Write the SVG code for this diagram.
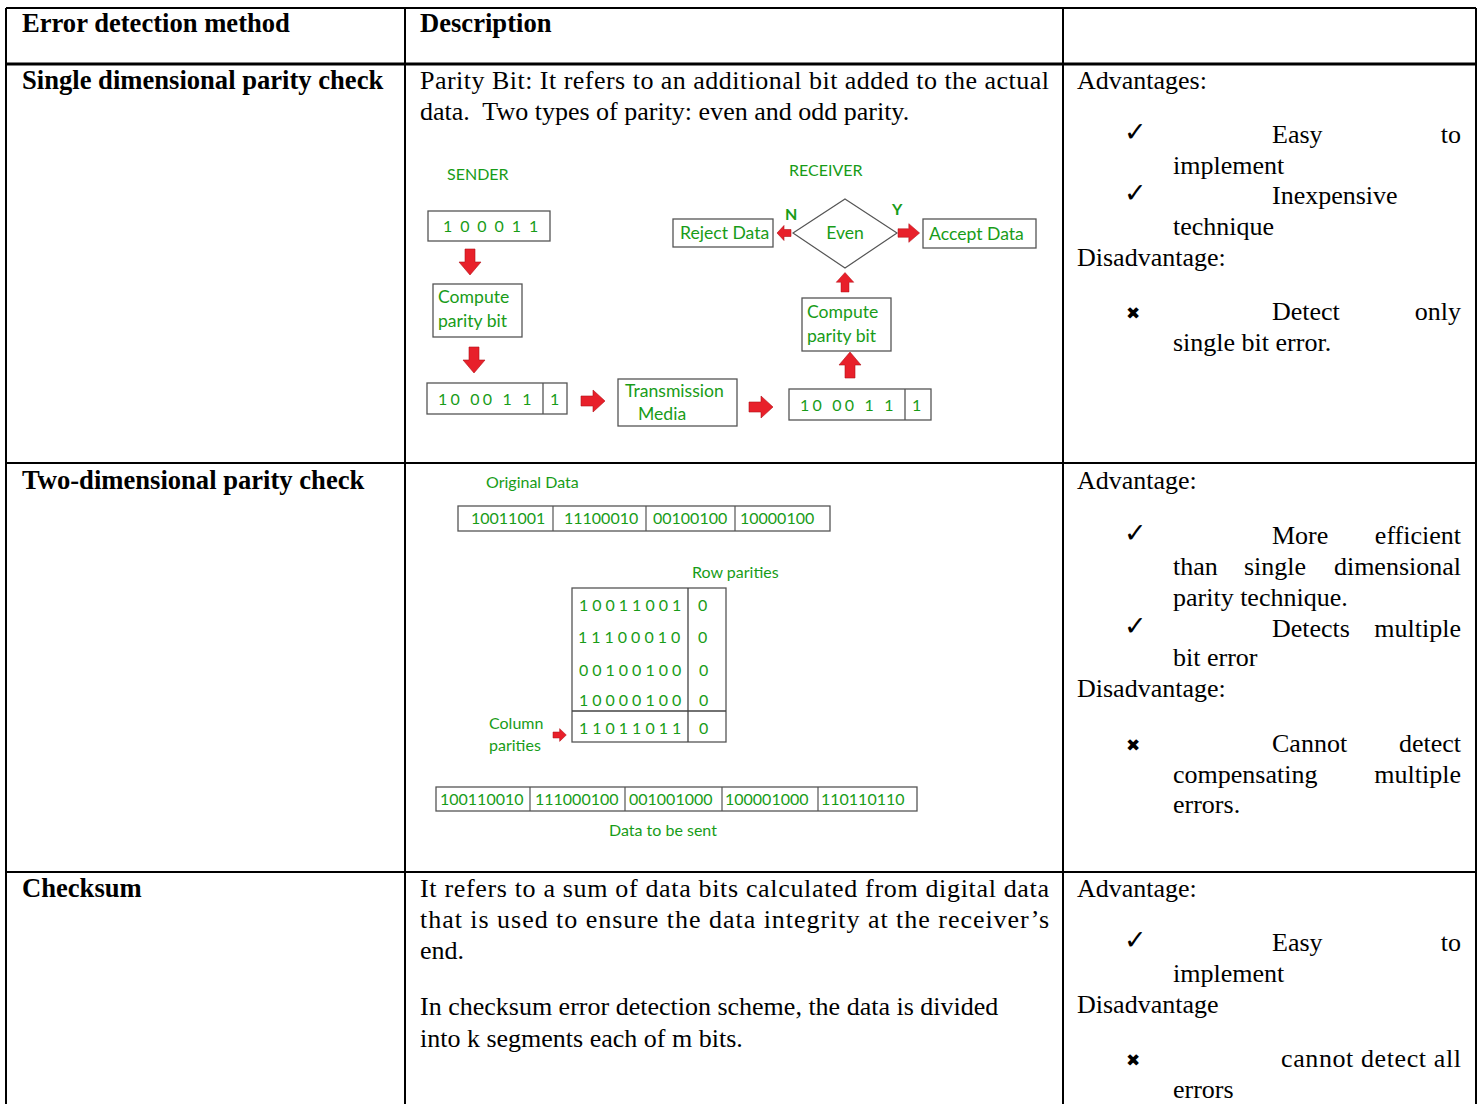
<svg xmlns="http://www.w3.org/2000/svg" xmlns:xlink="http://www.w3.org/1999/xlink" width="1481" height="1104" viewBox="0 0 1481 1104">
  <style>
    .grid { stroke: #000; stroke-width: 2; fill: none; }
    .t { font-family: "Liberation Serif", "Times New Roman", serif; font-size: 26px; fill: #000; }
    .b { font-weight: bold; font-size: 26.6px; }
    .sym { font-family: "DejaVu Sans", sans-serif; fill: #000; }
    .g { font-family: Lato, "Open Sans", "Liberation Sans", sans-serif; fill: #189c18; font-size: 16px; }
    .l { font-size: 17.6px; }
    .gb { font-weight: bold; }
    .box { fill: #fff; stroke: #555; stroke-width: 1.3; }
    .arr { fill: #e8202a; stroke: #b01018; stroke-width: 0.6; }
  </style>
  <defs>
    <!-- block arrow pointing down, origin at top centre -->
    <path id="arrowDown" class="arr" d="M-5,0 h10 v13 h6 l-11,13 l-11,-13 h6 z"/>
    <!-- block arrow pointing right, origin at left middle -->
    <path id="arrowRight" class="arr" d="M0,-5 h12 v-6 l12,11 l-12,11 v-6 h-12 z"/>
    <path id="arrowSmallR" class="arr" d="M0,-3.5 h7 v-4 l7,7.5 l-7,7.5 v-4 h-7 z"/>
  </defs>

  <rect width="1481" height="1104" fill="#fff"/>

  <!-- table grid -->
  <g id="table-grid" class="grid">
    <line x1="6" y1="8" x2="1476" y2="8"/>
    <line x1="6" y1="64" x2="1476" y2="64" stroke-width="3"/>
    <line x1="6" y1="463" x2="1476" y2="463"/>
    <line x1="6" y1="872" x2="1476" y2="872"/>
    <line x1="6" y1="8" x2="6" y2="1104"/>
    <line x1="405" y1="8" x2="405" y2="1104"/>
    <line x1="1063" y1="8" x2="1063" y2="1104"/>
    <line x1="1476" y1="8" x2="1476" y2="1104"/>
  </g>

  <!-- header row -->
  <g id="header">
    <text class="t b" x="22" y="32">Error detection method</text>
    <text class="t b" x="420" y="32">Description</text>
  </g>

  <!-- row 1: single dimensional parity -->
  <g id="row-single">
    <text class="t b" x="22" y="89">Single dimensional parity check</text>
    <text class="t" x="420" y="89" textLength="629" lengthAdjust="spacing">Parity Bit: It refers to an additional bit added to the actual</text>
    <text class="t" x="420" y="120" xml:space="preserve">data.  Two types of parity: even and odd parity.</text>

    <text class="t" x="1077" y="89">Advantages:</text>
    <text class="sym" x="1124" y="141" font-size="27">✓</text>
    <text class="t" x="1272" y="143">Easy</text>
    <text class="t" x="1461" y="143" text-anchor="end">to</text>
    <text class="t" x="1173" y="174">implement</text>
    <text class="sym" x="1124" y="202" font-size="27">✓</text>
    <text class="t" x="1272" y="204">Inexpensive</text>
    <text class="t" x="1173" y="235">technique</text>
    <text class="t" x="1077" y="266">Disadvantage:</text>
    <text class="sym" x="1126" y="319" font-size="17">✖</text>
    <text class="t" x="1272" y="320">Detect</text>
    <text class="t" x="1461" y="320" text-anchor="end">only</text>
    <text class="t" x="1173" y="351">single bit error.</text>
  </g>

  <!-- single parity: sender side -->
  <g id="sender">
    <text class="g" x="447" y="180">SENDER</text>
    <rect class="box" x="428" y="211" width="122" height="30"/>
    <text class="g" x="443" y="232" font-size="18" letter-spacing="1.9">1 0 0 0 1 1</text>
    <use xlink:href="#arrowDown" x="470" y="249"/>
    <rect class="box" x="433" y="284" width="89" height="53"/>
    <text class="g l" x="438" y="303">Compute</text>
    <text class="g l" x="438" y="327">parity bit</text>
    <use xlink:href="#arrowDown" x="474" y="347"/>
    <rect class="box" x="427" y="383" width="140" height="31"/>
    <line x1="543" y1="383" x2="543" y2="414" stroke="#555" stroke-width="1.3"/>
    <text class="g" x="438" y="405" font-size="18" letter-spacing="3.2">10 00 1 1</text>
    <text class="g" x="550" y="405" font-size="18">1</text>
    <use xlink:href="#arrowRight" x="581" y="401"/>
    <rect class="box" x="618" y="379" width="119" height="47"/>
    <text class="g l" x="625" y="397" font-size="18.5">Transmission</text>
    <text class="g l" x="638" y="420" font-size="18.5">Media</text>
    <use xlink:href="#arrowRight" x="749" y="407"/>
  </g>

  <!-- single parity: receiver side -->
  <g id="receiver">
    <text class="g" x="789" y="176">RECEIVER</text>
    <rect class="box" x="789" y="389" width="142" height="31"/>
    <line x1="905" y1="389" x2="905" y2="420" stroke="#555" stroke-width="1.3"/>
    <text class="g" x="800" y="411" font-size="18" letter-spacing="3.2">10 00 1 1</text>
    <text class="g" x="912" y="411" font-size="18">1</text>
    <use xlink:href="#arrowDown" transform="translate(850,378) rotate(180)"/>
    <rect class="box" x="802" y="298" width="89" height="53"/>
    <text class="g l" x="807" y="318">Compute</text>
    <text class="g l" x="807" y="342">parity bit</text>
    <use xlink:href="#arrowDown" transform="translate(845,292) rotate(180) scale(0.8,0.75)"/>
    <polygon points="845,199 897,233 845,268 793,233" fill="#fff" stroke="#555" stroke-width="1.2"/>
    <text class="g l" x="845" y="239" text-anchor="middle">Even</text>
    <text class="g gb" x="785" y="220">N</text>
    <text class="g gb" x="892" y="215">Y</text>
    <use xlink:href="#arrowSmallR" transform="translate(791,233) rotate(180)"/>
    <rect class="box" x="673" y="219" width="100" height="28"/>
    <text class="g l" x="680" y="239">Reject Data</text>
    <use xlink:href="#arrowRight" transform="translate(898,233) scale(0.9,0.85)"/>
    <rect class="box" x="923" y="219" width="113" height="29"/>
    <text class="g l" x="929" y="240">Accept Data</text>
  </g>

  <!-- row 2: two-dimensional parity -->
  <g id="row-two-dim">
    <text class="t b" x="22" y="489">Two-dimensional parity check</text>

    <text class="t" x="1077" y="489">Advantage:</text>
    <text class="sym" x="1124" y="542" font-size="27">✓</text>
    <text class="t" x="1272" y="544">More</text>
    <text class="t" x="1461" y="544" text-anchor="end">efficient</text>
    <text class="t" x="1173" y="575">than</text>
    <text class="t" x="1244" y="575">single</text>
    <text class="t" x="1461" y="575" text-anchor="end">dimensional</text>
    <text class="t" x="1173" y="606">parity technique.</text>
    <text class="sym" x="1124" y="635" font-size="27">✓</text>
    <text class="t" x="1272" y="637">Detects</text>
    <text class="t" x="1461" y="637" text-anchor="end">multiple</text>
    <text class="t" x="1173" y="666">bit error</text>
    <text class="t" x="1077" y="697">Disadvantage:</text>
    <text class="sym" x="1126" y="751" font-size="17">✖</text>
    <text class="t" x="1272" y="752">Cannot</text>
    <text class="t" x="1461" y="752" text-anchor="end">detect</text>
    <text class="t" x="1173" y="783">compensating</text>
    <text class="t" x="1461" y="783" text-anchor="end">multiple</text>
    <text class="t" x="1173" y="813">errors.</text>
  </g>

  <!-- two-dimensional parity: data blocks -->
  <g id="original-data">
    <text class="g" x="486" y="488" font-size="15.3">Original Data</text>
    <rect class="box" x="458" y="506" width="372" height="25"/>
    <path d="M553,506 V531 M646,506 V531 M735,506 V531" stroke="#555" stroke-width="1.2"/>
    <text class="g" x="471" y="524" font-size="15.8">10011001</text>
    <text class="g" x="564" y="524" font-size="15.8">11100010</text>
    <text class="g" x="653" y="524" font-size="15.8">00100100</text>
    <text class="g" x="740" y="524" font-size="15.8">10000100</text>
  </g>

  <g id="parity-grid">
    <text class="g" x="692" y="578" font-size="16.6">Row parities</text>
    <rect class="box" x="572" y="588" width="154" height="154"/>
    <path d="M688,588 V742 M572,711 H726" stroke="#444" stroke-width="1.3"/>
    <g font-size="17" letter-spacing="4">
      <text class="g" x="579" y="611" font-size="17">10011001</text>
      <text class="g" x="578" y="643" font-size="17">11100010</text>
      <text class="g" x="579" y="676" font-size="17">00100100</text>
      <text class="g" x="579" y="706" font-size="17">10000100</text>
      <text class="g" x="579" y="734" font-size="17">11011011</text>
    </g>
    <text class="g" x="698" y="611" font-size="17">0</text>
    <text class="g" x="698" y="643" font-size="17">0</text>
    <text class="g" x="699" y="676" font-size="17">0</text>
    <text class="g" x="699" y="706" font-size="17">0</text>
    <text class="g" x="699" y="734" font-size="17">0</text>
    <text class="g" x="489" y="729" font-size="15.5">Column</text>
    <text class="g" x="489" y="751" font-size="15.5">parities</text>
    <use xlink:href="#arrowSmallR" transform="translate(553,735) scale(0.95,0.85)"/>
  </g>

  <g id="data-to-send">
    <rect class="box" x="436" y="787" width="481" height="24"/>
    <path d="M530,787 V811 M625,787 V811 M722,787 V811 M818,787 V811" stroke="#555" stroke-width="1.2"/>
    <text class="g" x="440" y="805" font-size="15.7">100110010</text>
    <text class="g" x="535" y="805" font-size="15.7">111000100</text>
    <text class="g" x="629" y="805" font-size="15.7">001001000</text>
    <text class="g" x="725" y="805" font-size="15.7">100001000</text>
    <text class="g" x="821" y="805" font-size="15.7">110110110</text>
    <text class="g" x="609" y="836" font-size="15.4">Data to be sent</text>
  </g>

  <!-- row 3: checksum -->
  <g id="row-checksum">
    <text class="t b" x="22" y="897">Checksum</text>
    <text class="t" x="420" y="897" textLength="629" lengthAdjust="spacing">It refers to a sum of data bits calculated from digital data</text>
    <text class="t" x="420" y="928" textLength="629" lengthAdjust="spacing">that is used to ensure the data integrity at the receiver’s</text>
    <text class="t" x="420" y="959">end.</text>
    <text class="t" x="420" y="1015">In checksum error detection scheme, the data is divided</text>
    <text class="t" x="420" y="1047">into k segments each of m bits.</text>

    <text class="t" x="1077" y="897">Advantage:</text>
    <text class="sym" x="1124" y="949" font-size="27">✓</text>
    <text class="t" x="1272" y="951">Easy</text>
    <text class="t" x="1461" y="951" text-anchor="end">to</text>
    <text class="t" x="1173" y="982">implement</text>
    <text class="t" x="1077" y="1013">Disadvantage</text>
    <text class="sym" x="1126" y="1066" font-size="17">✖</text>
    <text class="t" x="1281" y="1067" textLength="180" lengthAdjust="spacing">cannot detect all</text>
    <text class="t" x="1173" y="1098">errors</text>
  </g>
</svg>
